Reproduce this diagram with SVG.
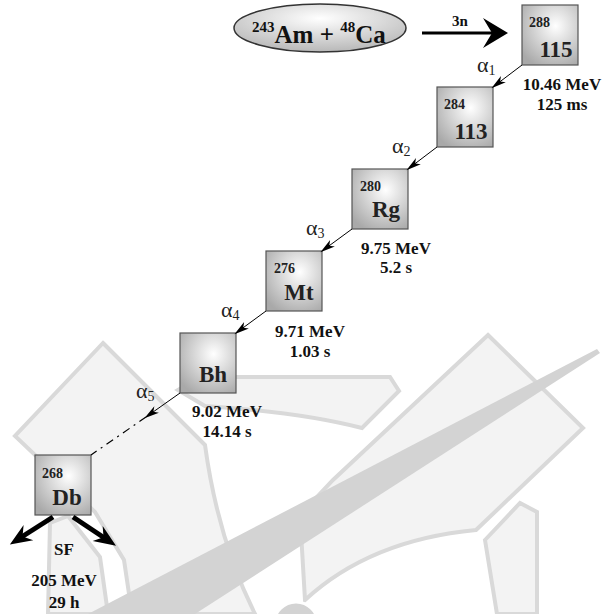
<svg xmlns="http://www.w3.org/2000/svg" width="602" height="614" viewBox="0 0 602 614">
  <defs>
    <radialGradient id="boxFill" cx="0.6" cy="0.35" r="0.75">
      <stop offset="0" stop-color="#ffffff"/>
      <stop offset="1" stop-color="#a9a9a9"/>
    </radialGradient>
    <radialGradient id="ovalFill" cx="0.5" cy="0.3" r="0.7">
      <stop offset="0" stop-color="#ffffff"/>
      <stop offset="1" stop-color="#b8b8b8"/>
    </radialGradient>
    <marker id="decayHead" viewBox="-16 -6 20 12" refX="0" refY="0" markerWidth="20" markerHeight="12" markerUnits="userSpaceOnUse" orient="auto">
      <path d="M2,0 L-13,-4 L-9,0 L-13,4 Z" fill="#000"/>
    </marker>
    <marker id="sfHead" viewBox="-12 -10 26 20" refX="0" refY="0" markerWidth="26" markerHeight="20" markerUnits="userSpaceOnUse" orient="auto">
      <path d="M12,0 L-10,-9 L-3,0 L-10,9 Z" fill="#000"/>
    </marker>
  </defs>
  <style>
    .wm { fill: #f3f3f3; stroke: #d9d9d9; stroke-width: 4; stroke-linejoin: miter; }
    .needle { fill: #d3d3d3; }
    .box { fill: url(#boxFill); stroke: #555; stroke-width: 1.2; }
    .mass { font-family: "Liberation Serif", serif; font-weight: bold; font-size: 14px; fill: #222; }
    .sym { font-family: "Liberation Serif", serif; font-weight: bold; font-size: 23px; fill: #222; text-anchor: middle; }
    .info { font-family: "Liberation Serif", serif; font-weight: bold; font-size: 17px; fill: #111; text-anchor: middle; }
    .alpha { font-family: "Liberation Serif", serif; font-size: 22px; fill: #222; }
    .alpha tspan.sub { font-size: 14px; }
    .decay { stroke: #000; stroke-width: 1; fill: none; marker-end: url(#decayHead); }
    .sf { stroke: #000; stroke-width: 5; fill: none; marker-end: url(#sfHead); }
  </style>

  <!-- faint emblem behind the chain -->
  <g id="emblem">
    <path class="wm" d="M103,343 L205,445 Q218,540 255,614 L132,614 L124,560 L95,512 L15,436 Z"/>
    <path class="wm" d="M50,523 L68,516 L100,557 L108,614 L48,614 Z"/>
    <path class="wm" d="M178,390 L200,377 L390,377 L399,391 L362,428 Q300,412 205,406 Z"/>
    <path class="wm" d="M488,335 L583,428 L476,530 Q370,540 305,600 L300,515 L333,480 Z"/>
    <path class="wm" d="M485,540 L520,503 L537,512 L537,614 L497,614 Q490,570 485,540 Z"/>
    <path class="needle" d="M597,349 L600,353 L195,614 L88,614 Z"/>
    <circle cx="296" cy="624" r="22" fill="#d3d3d3" stroke="#ffffff" stroke-width="3"/>
  </g>

  <!-- reaction -->
  <g id="reaction">
    <ellipse cx="320" cy="28" rx="86" ry="24" fill="url(#ovalFill)" stroke="#333" stroke-width="1.5"/>
    <text x="252" y="43" font-family="Liberation Serif, serif" font-weight="bold" font-size="25" fill="#111"><tspan font-size="15" dy="-11">243</tspan><tspan dy="11">Am + </tspan><tspan font-size="15" dy="-11">48</tspan><tspan dy="11">Ca</tspan></text>
  </g>

  <!-- nuclides -->
  <g id="n115">
    <rect class="box" x="522" y="5" width="56" height="60"/>
    <text class="mass" x="529" y="27">288</text>
    <text class="sym" x="556" y="57">115</text>
  </g>
  <g id="n113">
    <rect class="box" x="437" y="87" width="56" height="60"/>
    <text class="mass" x="444" y="109">284</text>
    <text class="sym" x="471" y="139">113</text>
  </g>
  <g id="nRg">
    <rect class="box" x="352" y="169" width="56" height="60"/>
    <text class="mass" x="360" y="191">280</text>
    <text class="sym" x="386" y="217">Rg</text>
  </g>
  <g id="nMt">
    <rect class="box" x="266" y="251" width="56" height="60"/>
    <text class="mass" x="274" y="273">276</text>
    <text class="sym" x="299" y="300">Mt</text>
  </g>
  <g id="nBh">
    <rect class="box" x="180" y="333" width="56" height="60"/>
    <text class="sym" x="213" y="382">Bh</text>
  </g>
  <g id="nDb">
    <rect class="box" x="35" y="455" width="56" height="60"/>
    <text class="mass" x="42" y="478">268</text>
    <text class="sym" x="67" y="505">Db</text>
  </g>

  <!-- decay data -->
  <g id="labels">
    <text class="alpha" x="477" y="72">α<tspan class="sub" dy="3">1</tspan></text>
    <text class="alpha" x="392" y="153">α<tspan class="sub" dy="3">2</tspan></text>
    <text class="alpha" x="306" y="235">α<tspan class="sub" dy="3">3</tspan></text>
    <text class="alpha" x="221" y="317">α<tspan class="sub" dy="3">4</tspan></text>
    <text class="alpha" x="136" y="398">α<tspan class="sub" dy="3">5</tspan></text>

    <text class="info" x="562" y="90">10.46 MeV</text>
    <text class="info" x="562" y="110">125 ms</text>
    <text class="info" x="396" y="254">9.75 MeV</text>
    <text class="info" x="396" y="273">5.2 s</text>
    <text class="info" x="310" y="337">9.71 MeV</text>
    <text class="info" x="310" y="357">1.03 s</text>
    <text class="info" x="227" y="417">9.02 MeV</text>
    <text class="info" x="227" y="437">14.14 s</text>

    <text class="info" x="64" y="555" font-size="21">SF</text>
    <text class="info" x="64" y="586">205 MeV</text>
    <text class="info" x="64" y="608">29 h</text>

    <text x="452" y="26" font-family="Liberation Serif, serif" font-weight="bold" font-size="15" fill="#111">3n</text>
  </g>

  <!-- connectors -->
  <g id="connectors">
    <line x1="422" y1="33" x2="494" y2="33" stroke="#000" stroke-width="3"/>
    <path d="M508,33 L483,18 L492,33 L483,48 Z" fill="#000"/>

    <line class="decay" x1="522" y1="65" x2="493" y2="87"/>
    <line class="decay" x1="437" y1="147" x2="408" y2="169"/>
    <line class="decay" x1="352" y1="229" x2="322" y2="251"/>
    <line class="decay" x1="266" y1="311" x2="236" y2="333"/>
    <line class="decay" x1="180" y1="393" x2="146" y2="417"/>
    <line x1="146" y1="417" x2="91" y2="455" stroke="#000" stroke-width="1.2" stroke-dasharray="8,5,2,5"/>

    <line class="sf" x1="53" y1="517" x2="20" y2="538"/>
    <line class="sf" x1="73" y1="517" x2="106" y2="539"/>
  </g>
</svg>
